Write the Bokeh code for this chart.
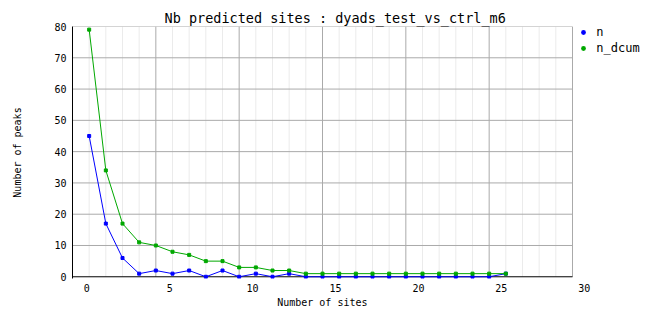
from bokeh.plotting import figure
from bokeh.models import (Range1d, FixedTicker, Legend, LegendItem, Title, LinearAxis)
from bokeh.embed import file_html
from bokeh.resources import INLINE

# ---- data ----
sites = list(range(26))
n = [45, 17, 6, 1, 2, 1, 2, 0, 2, 0, 1, 0, 1, 0, 0, 0, 0, 0, 0, 0, 0, 0, 0, 0, 0, 1]
n_dcum = [79, 34, 17, 11, 10, 8, 7, 5, 5, 3, 3, 2, 2,
          1, 1, 1, 1, 1, 1, 1, 1, 1, 1, 1, 1, 1]
x_tick_labels = [0, 5, 10, 15, 20, 25, 30]
y_ticks = [0, 10, 20, 30, 40, 50, 60, 70, 80]
series_names = ["n", "n_dcum"]
title_text = "Nb predicted sites : dyads_test_vs_ctrl_m6"
x_label = "Number of sites"
y_label = "Number of peaks"

# ---- style ----
BLUE = "#0000ff"
GREEN = "#00a800"
MAJOR = "#aaaaaa"
MINOR = "#ebebeb"
FONT = "DejaVu Sans Mono"

X0, X1 = -1, 29          # plotted box in data units
Y0, Y1 = 0, 80

p = figure(width=662, height=328, output_backend="svg", toolbar_location=None,
           x_range=Range1d(-1, 34.28), y_range=Range1d(-0.55, 80),
           x_axis_type=None, min_border_left=72, min_border_right=2,
           min_border_top=26, min_border_bottom=50)
p.outline_line_color = None
p.xgrid.visible = False
p.ygrid.visible = False
p.background_fill_color = "white"
p.border_fill_color = "white"

# title
p.title = Title(text=title_text, align="left", offset=92, text_font=FONT,
                text_font_size="13.5px", text_font_style="normal",
                text_color="black", standoff=1)

# grid (manual so it stops at the box edge)
minor_x = [i for i in range(X0 + 1, X1) if (i - 4) % 5 != 0]
p.segment(x0=minor_x, y0=[Y0] * len(minor_x), x1=minor_x, y1=[Y1] * len(minor_x),
          line_color=MINOR, line_width=1)
major_x = [i for i in range(X0 + 1, X1 + 1) if (i - 4) % 5 == 0]
p.segment(x0=major_x, y0=[Y0] * len(major_x), x1=major_x, y1=[Y1] * len(major_x),
          line_color=MAJOR, line_width=1)
major_y = [v for v in y_ticks if v > 0]
p.segment(x0=[X0] * len(major_y), y0=major_y, x1=[X1] * len(major_y), y1=major_y,
          line_color=MAJOR, line_width=1)
# bottom axis line
p.segment(x0=[X0], y0=[Y0], x1=[X1], y1=[Y0], line_color="black", line_width=1)

# series (blue first, green on top)
p.line(sites, n, line_color=BLUE, line_width=1)
p.scatter(sites, n, marker="square", size=3, fill_color=BLUE, line_color=BLUE)
p.line(sites, n_dcum, line_color=GREEN, line_width=1)
p.scatter(sites, n_dcum, marker="square", size=3, fill_color=GREEN, line_color=GREEN)

# legend glyph renderers (same data, zero size on the plot; legend draws a dot)
leg_n = p.scatter(sites, n, marker="circle", size=0, fill_color=BLUE, line_color=None)
leg_d = p.scatter(sites, n_dcum, marker="circle", size=0, fill_color=GREEN, line_color=None)
legend = Legend(items=[LegendItem(label=series_names[0], renderers=[leg_n]),
                       LegendItem(label=series_names[1], renderers=[leg_d])],
                location=(505.3, 221.7), padding=0, margin=0, spacing=0,
                glyph_width=12, glyph_height=16, label_height=16, label_standoff=7,
                border_line_color=None, background_fill_alpha=0,
                label_text_font=FONT, label_text_font_size="12px",
                label_text_color="black")
p.add_layout(legend)

# y axis
ya = p.yaxis[0]
ya.ticker = FixedTicker(ticks=y_ticks)
ya.axis_line_color = "black"
ya.major_tick_out = 0
ya.major_tick_in = 0
ya.minor_tick_out = 0
ya.minor_tick_in = 0
ya.major_label_standoff = 6
ya.major_label_text_font = FONT
ya.major_label_text_font_size = "10px"
ya.major_label_text_color = "black"
ya.axis_label = y_label
ya.axis_label_text_font = FONT
ya.axis_label_text_font_size = "10px"
ya.axis_label_text_font_style = "normal"
ya.axis_label_text_color = "black"
ya.axis_label_standoff = 28

# x axis (labels on their own scale)
p.extra_x_ranges = {"lab": Range1d(-0.8625, 34.60)}
xa = LinearAxis(x_range_name="lab", ticker=FixedTicker(ticks=x_tick_labels))
xa.axis_line_color = None
xa.major_tick_out = 0
xa.major_tick_in = 0
xa.minor_tick_out = 0
xa.minor_tick_in = 0
xa.major_label_standoff = 5
xa.major_label_text_font = FONT
xa.major_label_text_font_size = "10px"
xa.major_label_text_color = "black"
p.add_layout(xa, "below")

p.add_layout(Title(text=x_label, align="left", offset=204.7, text_font=FONT,
                   text_font_size="10px", text_font_style="normal",
                   text_color="black", standoff=0), "below")

open("out.html", "w").write(file_html(p, INLINE))
